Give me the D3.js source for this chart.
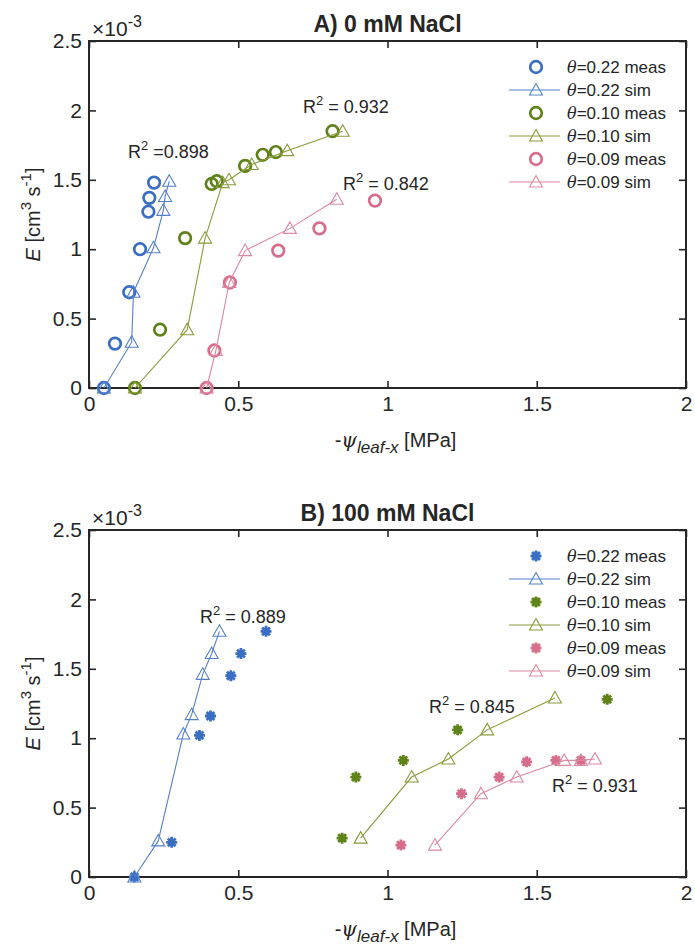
<!DOCTYPE html>
<html lang="en">
<head>
  <meta charset="UTF-8" />
  <title>Transpiration vs leaf water potential</title>
  <script src="https://d3js.org/d3.v7.min.js"></script>
  <style>
    html, body {
      margin: 0;
      padding: 0;
      background: white;
    }
    svg text {
      font-family: "Liberation Sans", Arial, sans-serif;
      fill: #262626;
    }
    .tick text {
      font-size: 21px;
    }
    .legend text {
      font-size: 17px;
    }
  </style>
</head>
<body>
<div id="chart"></div>

<script>
// ---- data (E in 1e-3 cm3 s-1, x = -psi leaf-x in MPa) ----
const xTicks = [0, 0.5, 1, 1.5, 2];
const yTicks = [0, 0.5, 1, 1.5, 2, 2.5];
const thetas = ["0.22", "0.10", "0.09"];

// panel A: 0 mM NaCl
const a22MeasX = [0.05, 0.087, 0.135, 0.171, 0.199, 0.202, 0.218];
const a22MeasY = [0, 0.32, 0.69, 1.0, 1.27, 1.37, 1.48];
const a22SimX  = [0.05, 0.143, 0.149, 0.216, 0.249, 0.255, 0.269];
const a22SimY  = [0, 0.33, 0.69, 1.01, 1.28, 1.38, 1.49];

const a10MeasX = [0.154, 0.238, 0.322, 0.411, 0.428, 0.523, 0.582, 0.626, 0.816];
const a10MeasY = [0, 0.42, 1.08, 1.47, 1.49, 1.60, 1.68, 1.70, 1.85];
const a10SimX  = [0.154, 0.329, 0.389, 0.448, 0.469, 0.545, 0.664, 0.85];
const a10SimY  = [0, 0.42, 1.08, 1.48, 1.50, 1.61, 1.71, 1.85];

const a09MeasX = [0.394, 0.42, 0.472, 0.634, 0.772, 0.958];
const a09MeasY = [0, 0.27, 0.76, 0.99, 1.15, 1.35];
const a09SimX  = [0.394, 0.425, 0.47, 0.523, 0.673, 0.83];
const a09SimY  = [0, 0.27, 0.76, 0.99, 1.15, 1.36];

// panel B: 100 mM NaCl
const b22MeasX = [0.152, 0.277, 0.37, 0.407, 0.475, 0.509, 0.593];
const b22MeasY = [0, 0.25, 1.02, 1.16, 1.45, 1.61, 1.77];
const b22SimX  = [0.152, 0.232, 0.316, 0.344, 0.381, 0.411, 0.437];
const b22SimY  = [0, 0.26, 1.03, 1.17, 1.46, 1.61, 1.77];

const b10MeasX = [0.848, 0.894, 1.053, 1.235, 1.736];
const b10MeasY = [0.28, 0.72, 0.84, 1.06, 1.28];
const b10SimX  = [0.91, 1.081, 1.204, 1.334, 1.561];
const b10SimY  = [0.28, 0.72, 0.85, 1.06, 1.29];

const b09MeasX = [1.045, 1.248, 1.374, 1.466, 1.564, 1.648];
const b09MeasY = [0.23, 0.60, 0.72, 0.83, 0.84, 0.84];
const b09SimX  = [1.159, 1.313, 1.433, 1.592, 1.648, 1.695];
const b09SimY  = [0.23, 0.60, 0.72, 0.84, 0.84, 0.85];

// R^2 labels: [text after superscript, x, y]
const r2A = [[" =0.898", 0.131, 1.66], [" = 0.932", 0.717, 1.98], [" = 0.842", 0.851, 1.43]];
const r2B = [[" = 0.889", 0.372, 1.83], [" = 0.845", 1.139, 1.18], [" = 0.931", 1.551, 0.61]];

const measColors = ["#3A6EC2", "#5E8118", "#D56D8B"];
const simColors  = ["#5580C8", "#8A9A3C", "#DB87A0"];

const zip = (xs, ys) => xs.map((x, i) => [x, ys[i]]);

const panels = [
  {
    title: "A) 0 mM NaCl", top: 41, marker: "circle",
    meas: [zip(a22MeasX, a22MeasY), zip(a10MeasX, a10MeasY), zip(a09MeasX, a09MeasY)],
    sim:  [zip(a22SimX, a22SimY), zip(a10SimX, a10SimY), zip(a09SimX, a09SimY)],
    r2: r2A
  },
  {
    title: "B) 100 mM NaCl", top: 530, marker: "star",
    meas: [zip(b22MeasX, b22MeasY), zip(b10MeasX, b10MeasY), zip(b09MeasX, b09MeasY)],
    sim:  [zip(b22SimX, b22SimY), zip(b10SimX, b10SimY), zip(b09SimX, b09SimY)],
    r2: r2B
  }
];

const W = 695, H = 952;
const left = 89, right = 686, plotH = 347;

const svg = d3.select("#chart").append("svg")
  .attr("width", W)
  .attr("height", H);

const triPath = "M0,-6.5L6.5,5L-6.5,5Z";
const starPath = "M-5.5,0H5.5M0,-5.5V5.5M-3.9,-3.9L3.9,3.9M-3.9,3.9L3.9,-3.9";

function drawMarker(g, kind, color) {
  if (kind === "circle") {
    g.append("circle").attr("r", 5.8)
      .attr("fill", "none").attr("stroke", color).attr("stroke-width", 2.7);
  } else if (kind === "star") {
    g.append("path").attr("d", starPath)
      .attr("fill", "none").attr("stroke", color).attr("stroke-width", 2.8);
  } else {
    g.append("path").attr("d", triPath)
      .attr("fill", "none").attr("stroke", color).attr("stroke-width", 1.1);
  }
}

panels.forEach(p => {
  const top = p.top, bottom = top + plotH;
  const x = d3.scaleLinear().domain([0, 2]).range([left, right]);
  const y = d3.scaleLinear().domain([0, 2.5]).range([bottom, top]);
  const g = svg.append("g");

  // axes (ticks inward, mirrored on top and right)
  g.append("g")
    .attr("transform", `translate(0,${bottom})`)
    .call(d3.axisBottom(x).tickValues(xTicks).tickFormat(d3.format("")).tickSizeInner(-7).tickSizeOuter(0).tickPadding(8));
  g.append("g")
    .attr("transform", `translate(0,${top})`)
    .call(d3.axisTop(x).tickValues(xTicks).tickFormat("").tickSizeInner(-7).tickSizeOuter(0));
  g.append("g")
    .attr("transform", `translate(${left},0)`)
    .call(d3.axisLeft(y).tickValues(yTicks).tickFormat(d3.format("")).tickSizeInner(-7).tickSizeOuter(0).tickPadding(7));
  g.append("g")
    .attr("transform", `translate(${right},0)`)
    .call(d3.axisRight(y).tickValues(yTicks).tickFormat("").tickSizeInner(-7).tickSizeOuter(0));
  g.selectAll(".domain").remove();
  g.selectAll(".tick line").attr("stroke", "#262626").attr("stroke-width", 1.6);
  g.selectAll(".tick text").attr("fill", "#262626");

  g.append("rect")
    .attr("x", left).attr("y", top)
    .attr("width", right - left).attr("height", plotH)
    .attr("fill", "none").attr("stroke", "#262626").attr("stroke-width", 2);

  // exponent label
  const ex = g.append("text").attr("x", left + 3).attr("y", top - 5)
    .style("font-size", "21px");
  ex.append("tspan").text("\u00d710");
  ex.append("tspan").attr("dy", -9).style("font-size", "16px").text("-3");

  // title
  g.append("text")
    .attr("x", (left + right) / 2).attr("y", top - 9)
    .attr("text-anchor", "middle")
    .style("font-size", "23px").style("font-weight", "bold")
    .text(p.title);

  // x label
  const xl = g.append("text")
    .attr("x", (left + right) / 2 + 8).attr("y", bottom + 59)
    .attr("text-anchor", "middle")
    .style("font-size", "20px");
  xl.append("tspan").text("-");
  xl.append("tspan").style("font-style", "italic").style("font-family", "'DejaVu Serif', serif").text("\u03c8");
  xl.append("tspan").attr("dy", 6).style("font-style", "italic").style("font-size", "17px").text("leaf-x");
  xl.append("tspan").attr("dy", -6).text(" [MPa]");

  // y label
  const yl = g.append("text")
    .attr("transform", `translate(40,${(top + bottom) / 2}) rotate(-90)`)
    .attr("text-anchor", "middle")
    .style("font-size", "20px");
  yl.append("tspan").style("font-style", "italic").text("E");
  yl.append("tspan").text(" [cm");
  yl.append("tspan").attr("dy", -9).style("font-size", "15px").text("3");
  yl.append("tspan").attr("dy", 9).text(" s");
  yl.append("tspan").attr("dy", -9).style("font-size", "15px").text("-1");
  yl.append("tspan").attr("dy", 9).text("]");

  // series: meas then sim for each theta
  const line = d3.line().x(d => x(d[0])).y(d => y(d[1]));
  thetas.forEach((t, i) => {
    g.selectAll(null).data(p.meas[i]).join("g")
      .attr("transform", d => `translate(${x(d[0])},${y(d[1])})`)
      .each(function () { drawMarker(d3.select(this), p.marker, measColors[i]); });

    g.append("path").datum(p.sim[i])
      .attr("d", line)
      .attr("fill", "none").attr("stroke", simColors[i]).attr("stroke-width", 1.1);
    g.selectAll(null).data(p.sim[i]).join("g")
      .attr("transform", d => `translate(${x(d[0])},${y(d[1])})`)
      .each(function () { drawMarker(d3.select(this), "tri", simColors[i]); });
  });

  // R^2 annotations
  p.r2.forEach(r => {
    const tx = g.append("text").attr("x", x(r[1])).attr("y", y(r[2]))
      .style("font-size", "18px");
    tx.append("tspan").text("R");
    tx.append("tspan").attr("dy", -8).style("font-size", "13px").text("2");
    tx.append("tspan").attr("dy", 8).text(r[0]);
  });

  // legend
  const lg = g.append("g").attr("class", "legend")
    .attr("transform", `translate(0,${top + 26})`);
  const rows = [];
  thetas.forEach((t, i) => {
    rows.push({ label: "=" + t + " meas", kind: p.marker, color: measColors[i], line: false });
    rows.push({ label: "=" + t + " sim", kind: "tri", color: simColors[i], line: true });
  });
  rows.forEach((r, k) => {
    const row = lg.append("g").attr("transform", `translate(536,${k * 23})`);
    if (r.line) {
      row.append("line").attr("x1", -27).attr("x2", 24).attr("y1", 0).attr("y2", 0)
        .attr("stroke", r.color).attr("stroke-width", 1.1);
    }
    drawMarker(row, r.kind, r.color);
    const tx = row.append("text").attr("x", 31).attr("y", 6);
    tx.append("tspan").style("font-style", "italic").style("font-family", "'DejaVu Serif', serif").style("font-size", "16px").text("\u03b8");
    tx.append("tspan").text(r.label);
  });
});
</script>
</body>
</html>
